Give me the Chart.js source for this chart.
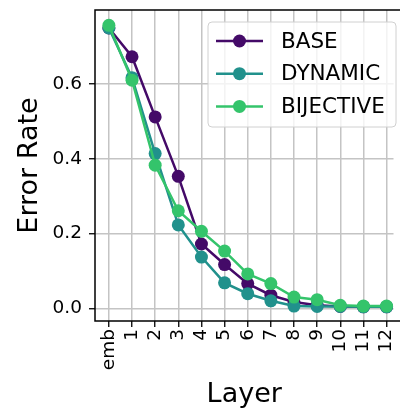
<!DOCTYPE html>
<html>
<head>
<meta charset="utf-8">
<script src="https://cdn.jsdelivr.net/npm/chart.js@4/dist/chart.umd.min.js"></script>
<style>
    html, body { margin: 0; padding: 0; overflow: hidden; background: #fff; }
    #wrap { width: 400px; height: 414px; }
</style>
</head>
<body>
<div id="wrap"><canvas id="chart" width="400" height="414"></canvas></div>
<script>
// данные
const layers = ['emb', '1', '2', '3', '4', '5', '6', '7', '8', '9', '10', '11', '12'];
const seriesNames = ['BASE', 'DYNAMIC', 'BIJECTIVE'];
const baseValues = [0.750, 0.673, 0.512, 0.353, 0.172, 0.117, 0.066, 0.035, 0.017, 0.008, 0.005, 0.004, 0.004];
const dynamicValues = [0.750, 0.617, 0.414, 0.223, 0.137, 0.068, 0.039, 0.020, 0.006, 0.005, 0.005, 0.004, 0.004];
const bijectiveValues = [0.757, 0.610, 0.383, 0.261, 0.206, 0.153, 0.092, 0.066, 0.030, 0.023, 0.008, 0.006, 0.006];
const yTicks = [0, 0.2, 0.4, 0.6];

const colors = ['#440a68', '#21918c', '#34c46b'];
const font = 'DejaVu Sans';

function toPoints(values) {
    return values.map((v, i) => ({x: i, y: v}));
}

// рамка вокруг области графика (правый край обрезан, как на картинке)
const framePlugin = {
    id: 'frame',
    afterDatasetsDraw(chart) {
        const a = chart.chartArea;
        const ctx = chart.ctx;
        ctx.save();
        ctx.strokeStyle = '#000';
        ctx.lineWidth = 1.5;
        ctx.beginPath();
        ctx.moveTo(chart.width, a.top);
        ctx.lineTo(a.left, a.top);
        ctx.lineTo(a.left, a.bottom);
        ctx.lineTo(chart.width, a.bottom);
        ctx.stroke();
        ctx.restore();
    }
};

// легенда внутри графика, как в matplotlib
const innerLegend = {
    id: 'innerLegend',
    afterDraw(chart) {
        const ctx = chart.ctx;
        const x = 208, y = 22, w = 188, h = 105;
        ctx.save();
        ctx.beginPath();
        ctx.roundRect(x, y, w, h, 4);
        ctx.fillStyle = 'rgba(255,255,255,0.8)';
        ctx.fill();
        ctx.strokeStyle = '#d0d0d0';
        ctx.lineWidth = 1;
        ctx.stroke();

        ctx.font = '21.5px "' + font + '"';
        ctx.textBaseline = 'middle';
        ctx.textAlign = 'left';
        for (let i = 0; i < seriesNames.length; i++) {
            const rowY = 41 + i * 32.7;
            ctx.strokeStyle = colors[i];
            ctx.lineWidth = 2.5;
            ctx.beginPath();
            ctx.moveTo(216, rowY);
            ctx.lineTo(263, rowY);
            ctx.stroke();
            ctx.fillStyle = colors[i];
            ctx.beginPath();
            ctx.arc(239.5, rowY, 6.5, 0, Math.PI * 2);
            ctx.fill();
            ctx.fillStyle = '#000';
            ctx.fillText(seriesNames[i], 281, rowY + 1);
        }
        ctx.restore();
    }
};

const allValues = [baseValues, dynamicValues, bijectiveValues];

new Chart(document.getElementById('chart'), {
    type: 'line',
    data: {
        datasets: seriesNames.map((name, i) => ({
            label: name,
            data: toPoints(allValues[i]),
            borderColor: colors[i],
            backgroundColor: colors[i],
            borderWidth: 2.5,
            pointRadius: 6.5,
            pointHoverRadius: 6.5,
            pointBorderWidth: 0,
            tension: 0,
            clip: false,
            order: 2 - i
        }))
    },
    options: {
        responsive: false,
        animation: false,
        layout: {padding: {left: 0, top: 10, right: 0, bottom: 0}},
        plugins: {
            legend: {display: false},
            tooltip: {enabled: false}
        },
        scales: {
            x: {
                type: 'linear',
                min: -0.6,
                max: 12.3,
                afterBuildTicks(scale) {
                    scale.ticks = layers.map((_, i) => ({value: i}));
                },
                afterFit(scale) {
                    scale.height = 93;
                    scale.paddingLeft = 0;
                    scale.paddingRight = 0;
                },
                ticks: {
                    autoSkip: false,
                    minRotation: 90,
                    maxRotation: 90,
                    padding: 2,
                    color: '#000',
                    font: {family: font, size: 18.5},
                    callback: (v) => layers[v]
                },
                grid: {color: '#c4c4c4', lineWidth: 1.5, tickLength: 6, tickColor: '#000', tickWidth: 1.3},
                border: {display: false},
                title: {
                    display: true,
                    text: 'Layer',
                    color: '#000',
                    font: {family: font, size: 27, lineHeight: 1},
                    padding: {top: 0, bottom: 6}
                }
            },
            y: {
                min: -0.034,
                max: 0.798,
                afterBuildTicks(scale) {
                    scale.ticks = yTicks.map(v => ({value: v}));
                },
                afterFit(scale) {
                    scale.width = 95;
                    scale.paddingTop = 0;
                    scale.paddingBottom = 0;
                },
                ticks: {
                    padding: 7,
                    color: '#000',
                    font: {family: font, size: 18.5},
                    callback: (v) => v.toFixed(1)
                },
                grid: {color: '#c4c4c4', lineWidth: 1.5, tickLength: 6, tickColor: '#000', tickWidth: 1.3},
                border: {display: false},
                title: {
                    display: true,
                    text: 'Error Rate',
                    color: '#000',
                    font: {family: font, size: 27, lineHeight: 1},
                    padding: {top: 16, bottom: 0}
                }
            }
        }
    },
    plugins: [framePlugin, innerLegend]
});
</script>
</body>
</html>
